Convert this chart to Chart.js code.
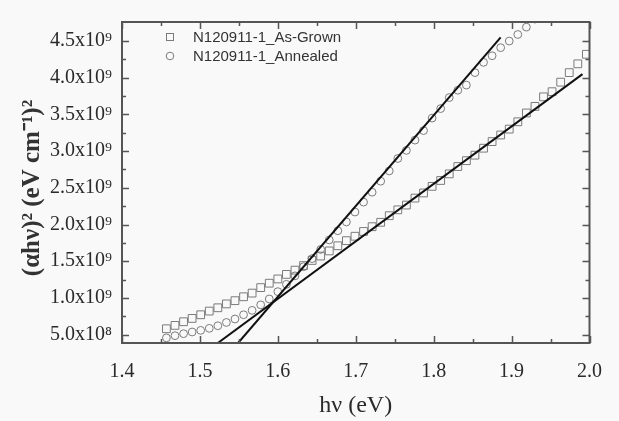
<!DOCTYPE html>
<html>
<head>
<meta charset="utf-8">
<script src="https://cdn.jsdelivr.net/npm/chart.js@4.4.0/dist/chart.umd.min.js"></script>
<style>
body { margin: 0; background: #f9f9f9; }
</style>
</head>
<body>
<canvas id="taucChart" width="619" height="421"></canvas>
<script>
// photon energy (eV) of each measured point
let energy = [1.457,1.468,1.479,1.490,1.501,1.512,1.523,1.534,1.545,1.556,
              1.567,1.578,1.589,1.600,1.611,1.622,1.633,1.644,1.655,1.666,
              1.677,1.688,1.699,1.710,1.721,1.732,1.743,1.754,1.765,1.776,
              1.787,1.798,1.809,1.820,1.831,1.842,1.853,1.864,1.875,1.886,
              1.897,1.908,1.919,1.930,1.941,1.952,1.963,1.974,1.985,1.996];

// (alpha h nu)^2 in units of 1e9 eV^2 cm^-2
let as_grown = [0.579,0.625,0.675,0.720,0.770,0.820,0.865,0.918,0.962,1.015,
                1.065,1.140,1.200,1.258,1.320,1.378,1.440,1.510,1.570,1.640,
                1.710,1.780,1.840,1.905,1.970,2.030,2.120,2.200,2.265,2.360,
                2.430,2.520,2.600,2.690,2.790,2.870,2.945,3.040,3.130,3.220,
                3.300,3.400,3.520,3.610,3.740,3.810,3.940,4.070,4.190,4.320];

let annealed = [0.455,0.485,0.512,0.535,0.557,0.585,0.620,0.665,0.712,0.770,
                0.830,0.905,0.985,1.085,1.185,1.300,1.425,1.535,1.660,1.790,
                1.915,2.035,2.170,2.305,2.440,2.590,2.730,2.900,3.010,3.150,
                3.280,3.450,3.580,3.730,3.830,3.900,4.070,4.210,4.300,4.410,
                4.500,4.590,4.690,4.800];

// linear fits (end points)
let fit_as_grown_x = [1.523, 1.991];
let fit_as_grown_y = [0.385, 4.05];
let fit_annealed_x = [1.549, 1.886];
let fit_annealed_y = [0.385, 4.55];

let series_names = ["N120911-1_As-Grown", "N120911-1_Annealed"];

let x_major_ticks = [1.4,1.5,1.6,1.7,1.8,1.9,2.0];
let x_minor_ticks = [1.45,1.55,1.65,1.75,1.85,1.95];
let y_tick_values = [0.5,1.0,1.5,2.0,2.5,3.0,3.5,4.0,4.5];
let y_tick_labels = ["5.0x10\u2078","1.0x10\u2079","1.5x10\u2079","2.0x10\u2079","2.5x10\u2079",
                     "3.0x10\u2079","3.5x10\u2079","4.0x10\u2079","4.5x10\u2079"];
let y_minor_ticks = [0.75,1.25,1.75,2.25,2.75,3.25,3.75,4.25];

let x_title = "h\u03bd (eV)";
let y_title = "(\u03b1h\u03bd)\u00b2 (eV cm\u207b\u00b9)\u00b2";

function pairs(xs, ys) {
  return ys.map((y, i) => ({x: xs[i], y: y}));
}

const markerColor = "#7b7b7b";
const serif = "'Liberation Serif', 'Times New Roman', serif";

// frame, inward ticks, legend and y title
const framePlugin = {
  id: "frame",
  afterDraw(chart) {
    const ctx = chart.ctx;
    const a = chart.chartArea;
    const xs = chart.scales.x, ys = chart.scales.y;
    ctx.save();
    ctx.strokeStyle = "#555";
    ctx.lineWidth = 2;
    ctx.strokeRect(a.left, a.top, a.right - a.left, a.bottom - a.top);
    ctx.lineWidth = 1.5;
    ctx.beginPath();
    x_major_ticks.concat(x_minor_ticks).forEach(v => {
      const len = x_major_ticks.includes(v) ? 7 : 4;
      const px = Math.round(xs.getPixelForValue(v)) + 0.5;
      ctx.moveTo(px, a.bottom); ctx.lineTo(px, a.bottom - len);
      ctx.moveTo(px, a.top); ctx.lineTo(px, a.top + len);
    });
    y_tick_values.concat(y_minor_ticks).forEach(v => {
      const len = y_tick_values.includes(v) ? 7 : 4;
      const py = Math.round(ys.getPixelForValue(v)) + 0.5;
      ctx.moveTo(a.left, py); ctx.lineTo(a.left + len, py);
      ctx.moveTo(a.right, py); ctx.lineTo(a.right - len, py);
    });
    ctx.stroke();

    // legend
    ctx.strokeStyle = markerColor;
    ctx.lineWidth = 1;
    ctx.strokeRect(166.5, 33.5, 7, 7);
    ctx.beginPath();
    ctx.arc(170, 56, 3.8, 0, Math.PI * 2);
    ctx.stroke();
    ctx.fillStyle = "#333";
    ctx.font = "15px 'Liberation Sans', Arial, sans-serif";
    ctx.textBaseline = "middle";
    ctx.fillText(series_names[0], 193, 38);
    ctx.fillText(series_names[1], 193, 57);

    // y title
    ctx.translate(33, 188);
    ctx.rotate(-Math.PI / 2);
    ctx.textAlign = "center";
    ctx.font = "bold 25px " + serif;
    ctx.fillText(y_title, 0, 0);
    ctx.restore();
  }
};

new Chart("taucChart", {
  type: "scatter",
  data: {
    datasets: [{
      data: pairs(fit_as_grown_x, fit_as_grown_y),
      showLine: true,
      borderColor: "#111",
      borderWidth: 2,
      pointRadius: 0
    },
    {
      data: pairs(fit_annealed_x, fit_annealed_y),
      showLine: true,
      borderColor: "#111",
      borderWidth: 2,
      pointRadius: 0
    },
    {
      label: series_names[0],
      data: pairs(energy, as_grown),
      pointStyle: "rect",
      pointRadius: 5.5,
      borderColor: markerColor,
      backgroundColor: "transparent",
      borderWidth: 1
    },
    {
      label: series_names[1],
      data: pairs(energy, annealed),
      pointStyle: "circle",
      pointRadius: 3.9,
      borderColor: markerColor,
      backgroundColor: "transparent",
      borderWidth: 1
    }]
  },
  options: {
    responsive: false,
    animation: false,
    layout: { padding: { top: 4, right: 23, left: 0, bottom: 0 } },
    plugins: {
      legend: { display: false },
      tooltip: { enabled: false }
    },
    scales: {
      x: {
        type: "linear",
        min: 1.4,
        max: 2.0,
        grid: { display: false, drawTicks: false },
        border: { display: false },
        ticks: {
          stepSize: 0.1,
          padding: 17,
          color: "#2a2a2a",
          font: { family: serif, size: 20 },
          callback: v => v.toFixed(1)
        },
        title: {
          display: true,
          text: x_title,
          color: "#2a2a2a",
          font: { family: serif, size: 24 },
          padding: { top: 4, bottom: 1 }
        },
        afterFit: s => { s.height = 78; }
      },
      y: {
        type: "linear",
        min: 0.385,
        max: 4.76,
        grid: { display: false, drawTicks: false },
        border: { display: false },
        afterBuildTicks: s => { s.ticks = y_tick_values.map(v => ({value: v})); },
        ticks: {
          padding: 10,
          color: "#2a2a2a",
          font: { family: serif, size: 20 },
          callback: (v, i) => y_tick_labels[i]
        },
        afterFit: s => { s.width = 122; }
      }
    }
  },
  plugins: [framePlugin]
});
</script>
</body>
</html>
